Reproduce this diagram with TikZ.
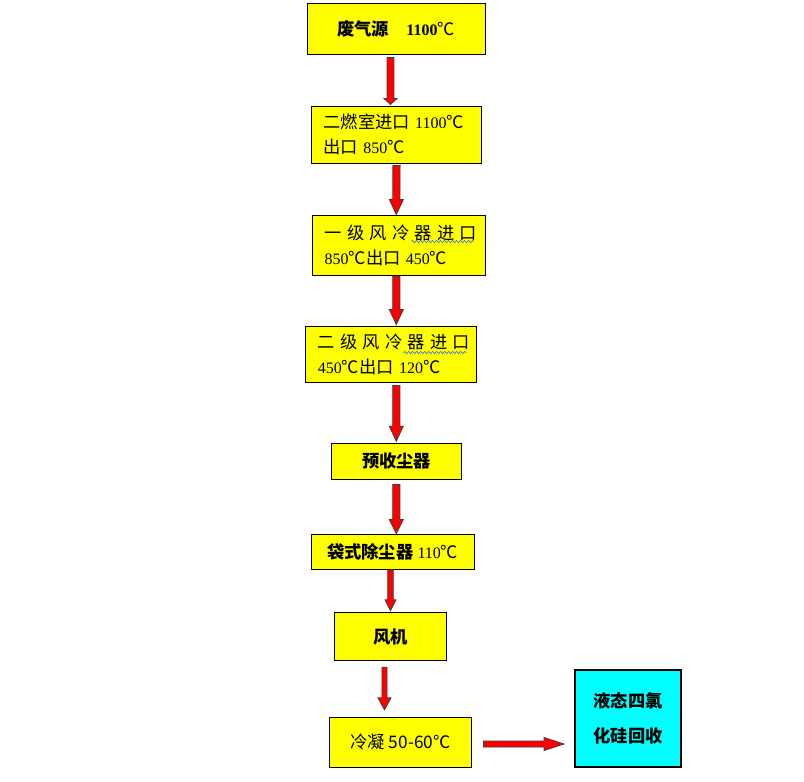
\documentclass[tikz,border=0pt]{standalone}
\usepackage{fontspec}
\setmainfont{Liberation Serif}
\newfontfamily\cjk[Scale=1.08]{Noto Sans CJK SC}
\newfontfamily\cjkwide[Scale=1.08,LetterSpace=30]{Noto Sans CJK SC}
\usetikzlibrary{calc,decorations.pathmorphing}
\definecolor{wavyblue}{RGB}{70,120,220}
\definecolor{boxcyan}{RGB}{0,255,255}
\definecolor{boxyellow}{RGB}{255,255,0}

\newcommand{\degc}{{\cjk ℃}}

% fat red arrow: half shaft, half head, head length, start, tip
\newcommand{\blockarrow}[5]{%
  \coordinate (fa) at (#4);
  \coordinate (fb) at (#5);
  \coordinate (fh) at ($(fb)!#3!(fa)$);
  \draw[arrowbody] ($(fa)!#1!90:(fb)$) -- ($(fh)!#1!90:(fb)$) -- ($(fh)!#2!90:(fb)$)
    -- (fb) -- ($(fh)!#2!-90:(fb)$) -- ($(fh)!#1!-90:(fb)$) -- ($(fa)!#1!-90:(fb)$) -- cycle;
}

\begin{document}
\begin{tikzpicture}[x=0.75pt, y=-0.75pt,
  box/.style={draw, fill=boxyellow, line width=0.75pt, inner sep=0pt, align=center, font=\fontsize{12pt}{18.75pt}\selectfont},
  twoline/.style={box, align=left, inner xsep=9pt},
  endbox/.style={box, fill=boxcyan, line width=1.5pt, font=\fontsize{12pt}{26.25pt}\selectfont},
  arrowbody/.style={draw=black!75, fill=red, line width=0.6pt},
  squiggle/.style={draw=wavyblue, line width=0.5pt, decorate, decoration={snake, amplitude=0.9pt, segment length=3pt}},
]
  \useasboundingbox (0,0) rectangle (804,782);

  \node[box, minimum width=133.5pt, minimum height=38.25pt] (src) at (396,28.5)
    {{\cjk\bfseries 废气源}\hspace{13pt}\textbf{1100}\degc};
  \node[twoline, text width=109.5pt, minimum height=42.75pt] (burn) at (396.5,134.5)
    {{\cjk 二燃室进口} 1100\degc\\{\cjk 出口} 850\degc};
  \node[twoline, text width=111.4pt, minimum height=45pt] (cool1) at (399,245)
    {{\cjkwide 一级风冷器进口}\\850\degc{\cjk 出口} 450\degc};
  \node[twoline, text width=110pt, minimum height=42.2pt] (cool2) at (391.3,354.2)
    {{\cjkwide 二级风冷器进口}\\450\degc{\cjk 出口} 120\degc};
  \node[box, minimum width=97.5pt, minimum height=27pt] (pre) at (396.7,461.3)
    {{\cjk\bfseries 预收尘器}};
  \node[box, minimum width=122.5pt, minimum height=26.5pt] (bag) at (392.7,551.7)
    {{\cjk\bfseries 袋式除尘器} 110\degc};
  \node[box, minimum width=83.8pt, minimum height=36.3pt] (fan) at (390.8,636.5)
    {{\cjk\bfseries 风机}};
  \node[box, minimum width=106.8pt, minimum height=37.5pt] (cond) at (400.5,742.3)
    {{\cjk 冷凝 50-60℃}};
  \node[endbox, minimum width=79.5pt, minimum height=72.75pt] (rec) at (628,718.5)
    {{\cjk\bfseries 液态四氯}\\{\cjk\bfseries 化硅回收}};

  % spell-check marks
  \draw[squiggle] ($(cool1.north west)+(99,27)$) -- ($(cool1.north west)+(162,27)$);
  \draw[squiggle] ($(cool2.north west)+(98,27)$) -- ($(cool2.north west)+(161,27)$);

  \blockarrow{2.6pt}{4.9pt}{4.5pt}{$(src.south)+(-5.5,3)$}{$(burn.north)+(-6,-1)$}
  \blockarrow{2.7pt}{5.25pt}{11.25pt}{$(burn.south)+(0,2)$}{$(cool1.north)+(-2.7,0)$}
  \blockarrow{2.7pt}{5.25pt}{11.25pt}{$(cool1.south)+(-2.7,1)$}{$(cool2.north)+(5,-1)$}
  \blockarrow{2.7pt}{5.25pt}{11.25pt}{$(cool2.south)+(5,2.7)$}{$(pre.north)+(-0.4,-1.6)$}
  \blockarrow{2.7pt}{5.25pt}{10.5pt}{$(pre.south)+(-0.4,4.7)$}{$(bag.north)+(3.6,0)$}
  \blockarrow{2.1pt}{4.1pt}{8.25pt}{$(bag.south)+(-2.2,0)$}{$(fan.north)+(-0.3,-1)$}
  \blockarrow{1.9pt}{4.9pt}{9pt}{$(fan.south)+(-6.3,6)$}{$(cond.north)+(-16,-7)$}
  \blockarrow{2.25pt}{4.9pt}{15pt}{$(cond.east)+(11.3,1.7)$}{$(rec.west)+(-10,25.5)$}
\end{tikzpicture}
\end{document}
